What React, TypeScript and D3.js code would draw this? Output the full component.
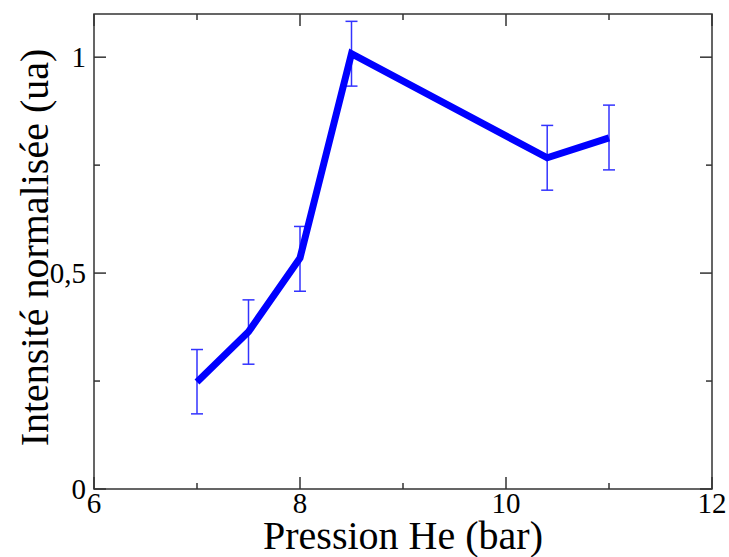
import React from "react";
import * as d3 from "d3";

const pressure = [7, 7.5, 8, 8.5, 10.4, 11];
const intensity = [0.248, 0.364, 0.535, 1.008, 0.767, 0.813];
const errLow = [0.174, 0.289, 0.458, 0.933, 0.692, 0.739];
const errHigh = [0.323, 0.438, 0.608, 1.083, 0.842, 0.889];
const xMajorTicks = [6, 8, 10, 12];
const xMinorTicks = [7, 9, 11];
const yMajorTicks = [0, 0.5, 1];
const yMinorTicks = [0.25, 0.75];
const yTickLabels = ["0", "0,5", "1"];

const W = 729, H = 557;
const M = { left: 94, top: 14, right: 712, bottom: 489 };

export default function App() {
  const x = d3.scaleLinear().domain([6, 12]).range([M.left, M.right]);
  const y = d3.scaleLinear().domain([0, 1.1]).range([M.bottom, M.top]);
  const pts = pressure.map((p, i) => [p, intensity[i]] as [number, number]);
  const line = d3.line<[number, number]>().x(d => x(d[0])).y(d => y(d[1]));
  const fontStyle = { fontFamily: "Liberation Serif, Tinos, Times New Roman, serif" };
  const axisColor = "#333";
  const major = 12, minor = 6;
  return (
    <svg width={W} height={H} style={{ position: "absolute", left: 0, top: 0 }}>
      <rect x={0} y={0} width={W} height={H} fill="#fff" />
      <g stroke={axisColor} strokeWidth={1.5}>
        {xMajorTicks.map(t => (
          <g key={"xM" + t}>
            <line x1={x(t)} x2={x(t)} y1={M.bottom} y2={M.bottom - major} />
            <line x1={x(t)} x2={x(t)} y1={M.top} y2={M.top + major} />
          </g>
        ))}
        {xMinorTicks.map(t => (
          <g key={"xm" + t}>
            <line x1={x(t)} x2={x(t)} y1={M.bottom} y2={M.bottom - minor} />
            <line x1={x(t)} x2={x(t)} y1={M.top} y2={M.top + minor} />
          </g>
        ))}
        {yMajorTicks.map(t => (
          <g key={"yM" + t}>
            <line x1={M.left} x2={M.left + major} y1={y(t)} y2={y(t)} />
            <line x1={M.right} x2={M.right - major} y1={y(t)} y2={y(t)} />
          </g>
        ))}
        {yMinorTicks.map(t => (
          <g key={"ym" + t}>
            <line x1={M.left} x2={M.left + minor} y1={y(t)} y2={y(t)} />
            <line x1={M.right} x2={M.right - minor} y1={y(t)} y2={y(t)} />
          </g>
        ))}
      </g>
      <rect x={M.left} y={M.top} width={M.right - M.left} height={M.bottom - M.top}
        fill="none" stroke={axisColor} strokeWidth={1.5} />
      <g stroke="#3333ff" strokeWidth={1.5}>
        {pressure.map((p, i) => (
          <g key={"e" + i}>
            <line x1={x(p)} x2={x(p)} y1={y(errLow[i])} y2={y(errHigh[i])} />
            <line x1={x(p) - 6} x2={x(p) + 6} y1={y(errLow[i])} y2={y(errLow[i])} />
            <line x1={x(p) - 6} x2={x(p) + 6} y1={y(errHigh[i])} y2={y(errHigh[i])} />
          </g>
        ))}
      </g>
      <path d={line(pts) || ""} fill="none" stroke="#0000ff" strokeWidth={7}
        strokeLinejoin="miter" strokeLinecap="butt" />
      <g style={fontStyle} fontSize={29} fill="#000">
        {xMajorTicks.map(t => (
          <text key={"xl" + t} x={x(t)} y={M.bottom + 24} textAnchor="middle">{t}</text>
        ))}
        {yMajorTicks.map((t, i) => (
          <text key={"yl" + t} x={M.left - 8} y={y(t) + 10} textAnchor="end">{yTickLabels[i]}</text>
        ))}
      </g>
      <text x={(M.left + M.right) / 2} y={549} textAnchor="middle" style={fontStyle} fontSize={40}>
        Pression He (bar)
      </text>
      <text transform={`translate(48, ${(M.top + M.bottom) / 2 - 4}) rotate(-90)`} textAnchor="middle"
        style={fontStyle} fontSize={40}>
        Intensité normalisée (ua)
      </text>
    </svg>
  );
}
